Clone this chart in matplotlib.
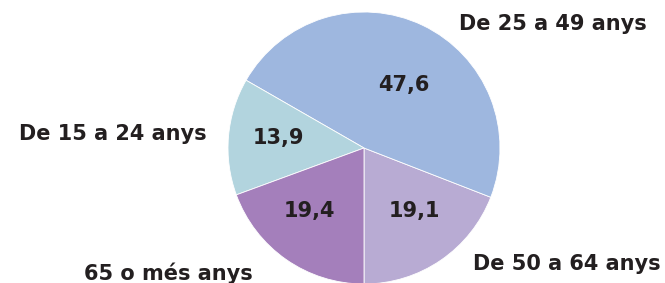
import matplotlib
matplotlib.use("Agg")
import matplotlib.pyplot as plt

# dades: distribució per edats (%)
grups = ['De 50 a 64 anys', 'De 25 a 49 anys', 'De 15 a 24 anys', '65 o més anys']
valors = [19.1, 47.6, 13.9, 19.4]
colors = ['#b8abd3', '#9eb7df', '#b2d4de', '#a47fbb']

# posicions de les etiquetes (coordenades del pastís, radi 1)
pos_etiq = [(1.49, -0.85), (1.39, 0.91), (-1.85, 0.10), (-1.44, -0.92)]
pos_valor = [(0.37, -0.46), (0.29, 0.46), (-0.63, 0.07), (-0.40, -0.46)]

W, H = 665, 283
fig = plt.figure(figsize=(W/100, H/100), dpi=100)
r = 136
cx, cy = 364, H - 148
ax = fig.add_axes([(cx - r)/W, (cy - r)/H, 2*r/W, 2*r/H])

wedges, textos, pcts = ax.pie(valors, labels=grups, colors=colors, startangle=-90,
                              counterclock=True, radius=1,
                              autopct=lambda p: '%.1f' % p,
                              wedgeprops=dict(edgecolor='white', linewidth=0.6),
                              textprops=dict(fontsize=15, fontweight='bold', color='#231f20'))

for t, v, p in zip(pcts, valors, pos_valor):
    t.set_text(('%.1f' % v).replace('.', ','))
    t.set_position(p)
    t.set_ha('center'); t.set_va('center')

for t, p in zip(textos, pos_etiq):
    t.set_position(p)
    t.set_ha('center'); t.set_va('center')

ax.set_xlim(-1, 1)
ax.set_ylim(-1, 1)
ax.set_aspect('equal')
ax.axis('off')

plt.savefig('out.png', dpi=100)
